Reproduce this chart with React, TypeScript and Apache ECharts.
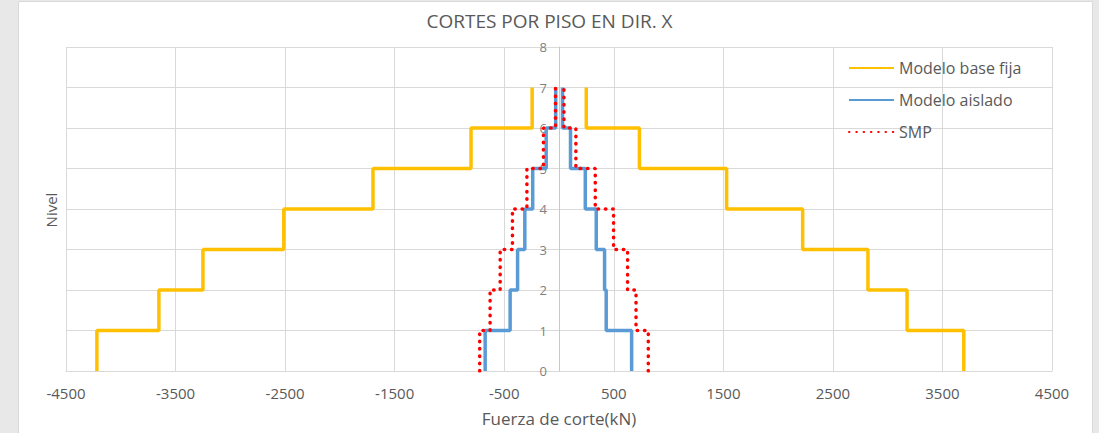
import React, { useEffect, useRef } from "react";
import * as echarts from "echarts";

// Story levels (0 = base, 7 = roof) and storey shears in kN, one value per storey (1..7)
const levels = [0, 1, 2, 3, 4, 5, 6, 7];
const baseFijaPos = [3695, 3177, 2820, 2224, 1530, 734, 249];
const baseFijaNeg = [-4218, -3652, -3250, -2512, -1698, -803, -245];
const aisladoPos = [663, 431, 416, 340, 240, 105, 32];
const aisladoNeg = [-674, -446, -378, -312, -240, -117, -30];
const smpPos = [815, 703, 626, 498, 331, 154, 45];
const smpNeg = [-724, -629, -537, -425, -293, -142, -32];

const xTicks = [-4500, 4500, 1000]; // min, max, interval
const yTicks = [0, 8, 1];

const TEXT = "#595959";
const GRID = "#d9d9d9";
const FONT = "Open Sans";

const GRID_LEFT = 66;
const GRID_RIGHT = 47;
const CHART_W = 1099;

// Build a staircase: each storey shear is held constant from level i to level i+1
function stairs(shears: number[]): number[][] {
  const pts: number[][] = [];
  shears.forEach((v, i) => {
    pts.push([v, levels[i]]);
    pts.push([v, levels[i + 1]]);
  });
  return pts;
}

export default function App() {
  const ref = useRef<HTMLDivElement>(null);

  useEffect(() => {
    if (!ref.current) return;
    const chart = echarts.init(ref.current, undefined, { renderer: "svg" });

    const yellow = { color: "#FFC000", width: 3.5 };
    const blue = { color: "#5B9BD5", width: 3.5 };
    const red = { color: "#FF0000", width: 3.5, type: [0.5, 6.8], cap: "round" as const };

    const mk = (name: string, data: number[][], ls: any, z: number) => ({
      name,
      type: "line",
      data,
      showSymbol: false,
      symbol: "none",
      lineStyle: ls,
      itemStyle: { color: ls.color },
      z,
    });

    // The vertical axis sits on x = 0, in the middle of the plot
    const plotW = CHART_W - GRID_LEFT - GRID_RIGHT;
    const zeroOffset = -plotW * ((0 - xTicks[0]) / (xTicks[1] - xTicks[0]));

    chart.setOption({
      animation: false,
      backgroundColor: "#e8e8e8",
      textStyle: { fontFamily: FONT },
      graphic: [
        {
          type: "rect",
          z: -10,
          silent: true,
          shape: { x: 18.5, y: 1.5, width: 1074, height: 440 },
          style: { fill: "#ffffff", stroke: GRID, lineWidth: 1 },
        },
        {
          type: "text",
          x: 51,
          y: 210,
          rotation: Math.PI / 2,
          style: {
            text: "Nivel",
            fill: TEXT,
            font: `15px "${FONT}"`,
            align: "center",
            verticalAlign: "middle",
          },
        },
      ],
      title: {
        text: "CORTES POR PISO EN DIR. X",
        left: "center",
        top: 6,
        textStyle: { color: TEXT, fontSize: 19, fontWeight: "normal", fontFamily: FONT },
      },
      legend: {
        orient: "vertical",
        left: 843,
        top: 55,
        itemWidth: 45,
        itemHeight: 14,
        itemGap: 16,
        itemStyle: { opacity: 0 },
        textStyle: { color: TEXT, fontSize: 16, fontFamily: FONT },
        data: ["Modelo base fija", "Modelo aislado", "SMP"],
      },
      grid: { left: GRID_LEFT, top: 47, right: GRID_RIGHT, bottom: 62 },
      xAxis: {
        type: "value",
        min: xTicks[0],
        max: xTicks[1],
        interval: xTicks[2],
        name: "Fuerza de corte(kN)",
        nameLocation: "middle",
        nameGap: 39,
        nameTextStyle: { color: TEXT, fontSize: 17, fontFamily: FONT },
        axisLine: { lineStyle: { color: GRID } },
        axisTick: { show: false },
        axisLabel: {
          color: TEXT,
          fontSize: 15,
          margin: 14,
          fontFamily: FONT,
          formatter: (v: number) => String(v),
        },
        splitLine: { lineStyle: { color: GRID } },
      },
      yAxis: {
        type: "value",
        min: yTicks[0],
        max: yTicks[1],
        interval: yTicks[2],
        offset: zeroOffset,
        axisLine: { show: true, onZero: false, lineStyle: { color: "#c8c8c8" } },
        axisTick: { show: false },
        axisLabel: { color: "#7f7f7f", fontSize: 13, margin: 12, fontFamily: FONT },
        splitLine: { lineStyle: { color: GRID } },
      },
      series: [
        mk("Modelo base fija", stairs(baseFijaNeg), yellow, 2),
        mk("Modelo base fija", stairs(baseFijaPos), yellow, 2),
        mk("Modelo aislado", stairs(aisladoNeg), blue, 3),
        mk("Modelo aislado", stairs(aisladoPos), blue, 3),
        mk("SMP", stairs(smpNeg), red, 4),
        mk("SMP", stairs(smpPos), red, 4),
      ],
    });

    return () => chart.dispose();
  }, []);

  return (
    <div
      style={{ position: "fixed", left: 0, top: 0, width: CHART_W, height: 433 }}
      ref={ref}
    />
  );
}
